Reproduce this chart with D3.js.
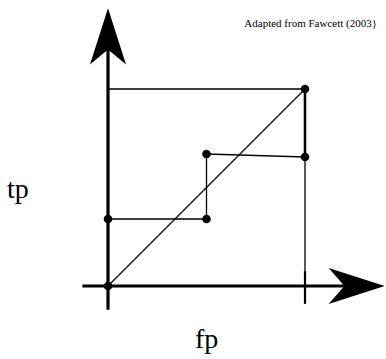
<!DOCTYPE html>
<html lang="en">
<head>
<meta charset="UTF-8">
<title>ROC staircase</title>
<script src="https://d3js.org/d3.v7.min.js"></script>
<style>
  body { margin: 0; background: #fff; }
  svg { display: block; }
</style>
</head>
<body>
<svg width="386" height="359"></svg>
<script>
// ROC curve points (false positive rate, true positive rate)
const rocFp = [0, 0, 0.5, 0.5, 1, 1];
const rocTp = [0, 0.34, 0.34, 0.67, 0.655, 1];
// axis extents in data units (with arrow tips)
const axisMin = -0.13;
const axisTip = 1.41;

const serif = "'Liberation Serif', 'Times New Roman', serif";
const svg = d3.select("svg");
const x = d3.scaleLinear().domain([0, 1]).range([108, 305]);
const y = d3.scaleLinear().domain([0, 1]).range([286, 89]);

// note
svg.append("text")
    .attr("x", 377).attr("y", 27)
    .attr("text-anchor", "end")
    .style("font-family", serif)
    .style("font-size", "11px")
    .text("Adapted from Fawcett (2003}");

// top line at tp = 1 and vertical at fp = 1
svg.append("line")
    .attr("x1", x(0)).attr("y1", y(1)).attr("x2", x(1)).attr("y2", y(1))
    .attr("stroke", "#000").attr("stroke-width", 1.3);
svg.append("line")
    .attr("x1", x(1)).attr("y1", y(1)).attr("x2", x(1)).attr("y2", y(-0.09))
    .attr("stroke", "#000").attr("stroke-width", 1.3);
// tick at fp = 1
svg.append("line")
    .attr("x1", x(1)).attr("y1", y(0.075)).attr("x2", x(1)).attr("y2", y(-0.09))
    .attr("stroke", "#000").attr("stroke-width", 2.2);

// diagonal
svg.append("line")
    .attr("x1", x(0)).attr("y1", y(0)).attr("x2", x(1)).attr("y2", y(1))
    .attr("stroke", "#000").attr("stroke-width", 1.3);

// roc path
const pts = rocFp.map((d, i) => [d, rocTp[i]]);
svg.append("path")
    .attr("d", d3.line().x(d => x(d[0])).y(d => y(d[1]))(pts))
    .attr("fill", "none").attr("stroke", "#000").attr("stroke-width", 1.3);
// last vertical step is drawn bolder
svg.append("line")
    .attr("x1", x(1)).attr("y1", y(rocTp[4])).attr("x2", x(1)).attr("y2", y(1))
    .attr("stroke", "#000").attr("stroke-width", 2.6);

// axes
svg.append("line")
    .attr("x1", x(0)).attr("y1", y(axisMin + 0.01)).attr("x2", x(0)).attr("y2", y(1.2))
    .attr("stroke", "#000").attr("stroke-width", 3.2);
svg.append("line")
    .attr("x1", x(axisMin)).attr("y1", y(0)).attr("x2", x(1.2)).attr("y2", y(0))
    .attr("stroke", "#000").attr("stroke-width", 3.2);

// arrowheads
svg.append("path")
    .attr("d", `M${x(0)},${y(axisTip)} L${x(0) + 18},${y(1.125)} L${x(0)},${y(1.2)} L${x(0) - 18},${y(1.125)} Z`)
    .attr("fill", "#000");
svg.append("path")
    .attr("d", `M${x(axisTip) - 1},${y(0)} L${x(1.12)},${y(0) + 18} L${x(1.2)},${y(0)} L${x(1.12)},${y(0) - 18} Z`)
    .attr("fill", "#000");

// points
svg.append("g")
    .selectAll("circle")
    .data(pts)
    .enter().append("circle")
    .attr("cx", d => x(d[0]))
    .attr("cy", d => y(d[1]))
    .attr("r", 4.3)
    .attr("fill", "#000");

// axis labels
svg.append("text")
    .attr("x", 7).attr("y", 198)
    .style("font-family", serif)
    .style("font-size", "28px")
    .text("tp");
svg.append("text")
    .attr("x", 195).attr("y", 348)
    .style("font-family", serif)
    .style("font-size", "28px")
    .text("fp");
</script>
</body>
</html>
